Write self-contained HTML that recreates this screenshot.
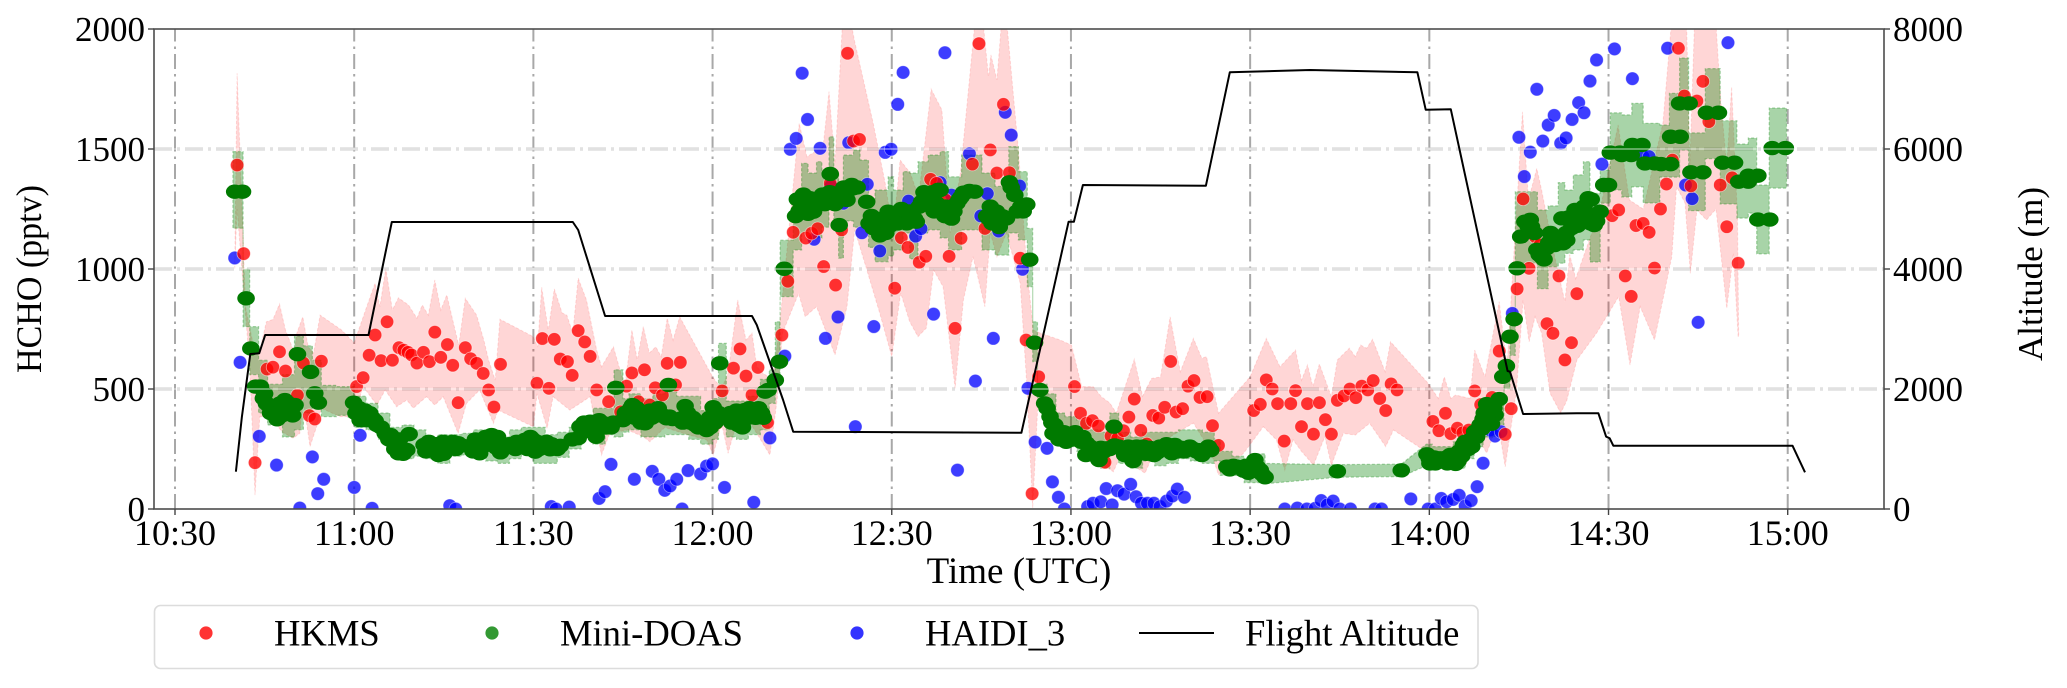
<!DOCTYPE html>
<html lang="en">
<head>
<meta charset="utf-8">
<title>HCHO and flight altitude time series</title>
<style>
html,body{margin:0;padding:0;background:#fff;}
svg{display:block;}
text{font-family:"Liberation Serif","Times New Roman",serif;fill:#000;}
</style>
</head>
<body>
<svg id="chart" xmlns="http://www.w3.org/2000/svg" width="2067" height="688" viewBox="0 0 2067 688">
  <defs><clipPath id="plot-clip"><rect x="154" y="29" width="1730" height="480"/></clipPath></defs>
  <rect x="0" y="0" width="2067" height="688" fill="#fff"/>
  <g id="grid"></g>
  <g id="series" clip-path="url(#plot-clip)"></g>
  <g id="axes"></g>
  <text x="1019" y="583" font-size="37" text-anchor="middle">Time (UTC)</text>
  <text transform="translate(41,279) rotate(-90) scale(1,1.07)" font-size="34" text-anchor="middle">HCHO (pptv)</text>
  <text transform="translate(2042,274) rotate(-90)" font-size="35" text-anchor="middle">Altitude (m)</text>
  <g>
    <rect x="154.5" y="605.5" width="1323.5" height="63" rx="6" fill="#fff" stroke="#dcdcdc" stroke-width="1.6"/>
    <circle cx="206" cy="633" r="6.6" fill="#ff0000" fill-opacity=".8"/>
    <text x="274" y="645.5" font-size="36.6">HKMS</text>
    <circle cx="492" cy="633" r="6.6" fill="#008000" fill-opacity=".8"/>
    <text x="560" y="645.5" font-size="36.6">Mini-DOAS</text>
    <circle cx="857" cy="633" r="6.6" fill="#0000ff" fill-opacity=".8"/>
    <text x="925" y="645.5" font-size="36.6">HAIDI_3</text>
    <line x1="1139" y1="633" x2="1214" y2="633" stroke="#000" stroke-width="2"/>
    <text x="1245" y="645.5" font-size="36.6">Flight Altitude</text>
  </g>
</svg>
<script>
// All times are minutes after 10:30 UTC; HCHO in pptv; altitude in metres.
const xTickMinutes = [0,30,60,90,120,150,180,210,240,270];
const xTickLabels = ['10:30','11:00','11:30','12:00','12:30','13:00','13:30','14:00','14:30','15:00'];
const hchoTicks = [0,500,1000,1500,2000];
const altitudeTicks = [0,2000,4000,6000,8000];

const hkmsUpper = [[10,1000],[10.4,1816],[11.5,1064],[11.8,843],[13.4,650],[14.2,662],[15.3,780],[16.4,790],[17.5,854],[18.5,746],[20,650],[20.4,733],[21.4,801],[22.3,675],[23.2,650],[24.3,808],[27.9,746],[30,692],[32.1,843],[33.5,941],[34.3,843],[35.3,1003],[36.4,829],[37.4,880],[39.1,850],[40.5,795],[41.4,850],[42.4,808],[43.5,954],[44.5,829],[45.5,892],[46.5,788],[47.5,683],[48.6,878],[50.5,808],[51.7,704],[52.5,621],[53.6,537],[54.4,791],[60,718],[60.7,675],[61.4,924],[62.5,746],[63.5,917],[64.8,817],[65.6,808],[66.6,733],[67.5,962],[68.9,871],[70.6,662],[71.4,593],[73.4,676],[75.3,510],[76.5,746],[77.4,621],[78.4,760],[79.4,650],[80.5,676],[81.4,635],[82.4,795],[83.4,704],[84.5,801],[90,551],[91.5,500],[92.6,567],[94.2,871],[95.6,704],[96.6,733],[97.4,593],[98.4,567],[100.1,537],[101.3,787],[103,1218],[104.5,1607],[105.8,1468],[108.5,1510],[109.5,1739],[110.5,1440],[111.9,2100],[113,2050],[113.8,1947],[116.9,1607],[118.9,1357],[120.2,1150],[121.4,1454],[123.1,1400],[124.5,1300],[126.6,1749],[128.4,1663],[129.8,1150],[131.5,1400],[134.2,2100],[135,2100],[136.2,1801],[136.6,1892],[137.6,1788],[138.6,2100],[139,2100],[141.2,1496],[142.6,1010],[143.7,746],[144.2,739],[148.2,704],[150.1,683],[151.8,510],[153.7,510],[155.1,468],[156.5,442],[157.6,400],[160.6,624],[162,470],[163.5,544],[165,550],[166.6,801],[168.3,572],[170.5,711],[171.9,628],[172.7,635],[174.7,399],[180,551],[182.7,711],[185,593],[187.6,662],[188.6,537],[189.6,600],[190.5,510],[191.6,604],[193.6,468],[194.6,621],[196.6,670],[197.6,635],[198.5,683],[199.5,670],[200.5,707],[202.6,572],[203.5,697],[209.8,524],[211.5,461],[212.5,551],[213.6,461],[214.4,475],[216.8,461],[217.6,662],[219.3,551],[221.7,864],[223,593],[225.6,1655],[226.6,1288],[228,1419],[228.8,1329],[231,1050],[232.7,864],[233.5,1060],[234.5,960],[238.6,1250],[241.6,1600],[243.5,1288],[245.8,1250],[249.1,1607],[250.8,2100],[253,2100],[253.6,1426],[254.5,2100],[257.8,2100],[258.8,1700],[259.8,1426],[260.6,1760],[261.6,1218],[261.8,718]];

const hkmsLower = [[10.4,1250],[11.5,900],[12.5,600],[13.4,58],[14.2,385],[16,380],[18,320],[19.8,295],[20.9,315],[21.5,450],[22.6,260],[23.7,343],[24.5,420],[27.6,385],[30,385],[31.5,510],[33.8,433],[35.2,496],[37.1,426],[38.8,454],[39.9,420],[42.1,468],[43.5,433],[44.9,468],[47.4,315],[48.8,440],[51,496],[53.3,357],[54.1,412],[60,343],[60.6,480],[62.3,336],[63.3,468],[66.1,412],[69.5,468],[71.4,225],[72.8,315],[75.8,329],[78.4,301],[79.5,280],[82,340],[85.1,315],[89,288],[90.1,225],[91.5,357],[92.6,232],[94,357],[96.3,357],[97.4,315],[99.6,225],[100.8,454],[101.7,733],[104.4,898],[105.5,801],[107.4,843],[110.5,642],[112.5,843],[113.8,1163],[115.5,1023],[118,815],[120,635],[121.5,900],[123,780],[124.4,718],[125.8,754],[127,996],[128.6,926],[130.6,503],[132,871],[133.6,1051],[135.6,843],[136.5,1150],[137.6,1051],[139.2,1150],[141.5,941],[142.6,525],[143.6,4],[144.5,454],[148,330],[151,288],[153.2,218],[157.1,155],[158.7,246],[160.5,180],[162.4,149],[164.5,270],[170.5,358],[173.3,246],[174.7,142],[178.9,232],[182.2,343],[184.4,288],[185.8,162],[187.2,288],[188.6,240],[190.6,183],[192.5,301],[193.6,182],[195.6,315],[197.6,308],[200,357],[202.7,260],[204,329],[209,246],[214.6,204],[216.2,190],[218,300],[219.6,233],[221.5,358],[222.7,176],[224.6,496],[225.7,871],[226.7,697],[227.7,801],[228.8,733],[230.2,483],[232,400],[233,450],[234.7,621],[238,733],[241.7,885],[243.6,600],[245.3,843],[247.7,704],[250.6,1051],[251.4,1343],[252.8,1275],[253.7,982],[254.8,1246],[256.4,1204],[258,1250],[259.8,836],[260.9,1065],[261.7,718]];

// [time, upper, lower] at each step of the Mini-DOAS uncertainty band
const doasBand = [[9.7,1489,1170],[11.4,1000,760],[12.5,760,560],[14,620,400],[15.5,520,350],[18,560,300],[20,720,330],[21.5,680,400],[23,620,430],[24.5,515,385],[27,510,390],[29,510,380],[30,470,340],[32,440,330],[34,400,290],[36,340,250],[38,350,210],[40,330,220],[42,300,210],[44,310,190],[46,310,220],[48,315,225],[50,330,220],[52,330,200],[54,300,190],[56,330,210],[58,340,230],[60,340,190],[62,310,190],[64,320,215],[66,340,250],[68,380,300],[70,420,270],[72,420,310],[73.5,580,300],[75,460,320],[76,480,330],[78,460,300],[80,480,300],[82,500,310],[84,470,310],[86,470,290],[88,410,270],[90,460,290],[91,690,400],[92.3,450,300],[94,450,290],[96,470,310],[98,540,330],[99.5,580,440],[100.5,780,520],[101.3,1120,885],[103.5,1301,1079],[104.9,1440,1150],[106,1400,1163],[107.4,1447,1129],[108.3,1400,1174],[109.5,1551,1260],[110.3,1400,1174],[111.1,1260,1045],[111.9,1475,1200],[113.6,1496,1174],[114.7,1454,1174],[116.1,1288,1090],[117.2,1329,1030],[119.4,1384,1054],[120.3,1329,1079],[121.9,1406,1150],[123,1400,1042],[124.4,1447,1150],[126.1,1475,1163],[128.1,1489,1129],[129.5,1384,1079],[131.7,1475,1163],[133.7,1475,1163],[135.1,1400,1079],[137.3,1344,1058],[139.6,1510,1150],[141.2,1406,1121],[142.7,1169,926],[143.6,780,614],[144.4,520,430],[146,480,330],[147.5,400,270],[149,385,260],[151,370,240],[153,330,200],[155,320,170],[156.5,400,230],[158,320,190],[160,300,170],[162,320,200],[164,320,180],[166,320,190],[168,330,210],[170,330,200],[172,320,190],[174,290,200],[175,240,140],[177,220,140],[179,195,110],[181,230,110],[182.5,190,105],[194.6,185,132],[205.3,187,135],[209.5,270,180],[210.5,260,170],[212,260,170],[214,280,170],[216,310,210],[217.5,350,260],[219,410,300],[221,480,350],[222.5,620,500],[223.5,800,640],[224.4,1322,1024],[228.1,1246,918],[229.9,1263,1010],[231.6,1360,1024],[232.7,1329,1065],[234.1,1392,1079],[235.8,1447,1121],[236.9,1315,1029],[238.6,1412,1274],[240.3,1651,1329],[242.2,1642,1300],[243.9,1690,1342],[245.8,1607,1275],[248.6,1600,1383],[250.2,1732,1383],[251.9,1879,1496],[253.4,1567,1243],[256.2,1835,1460],[258.7,1618,1271],[261.5,1521,1212],[263.4,1546,1233],[264.8,1350,1063],[266.9,1671,1337],[269.8,1671,1337]];

const hkmsPoints = [[10.4,1433],[11.5,1064],[13.4,193],[15.4,583],[16.4,591],[17.5,655],[18.5,575],[20.5,474],[21.5,608],[22.5,389],[23.4,375],[24.5,616],[30.4,510],[31.5,547],[32.5,641],[33.5,725],[34.5,618],[35.5,780],[36.4,620],[37.5,672],[38.3,662],[39,653],[39.6,642],[40.5,608],[41.6,653],[42.6,614],[43.5,737],[44.5,632],[45.6,685],[46.5,599],[47.4,443],[48.6,672],[49.5,626],[50.5,607],[51.6,565],[52.5,496],[53.4,425],[54.5,603],[60.6,524],[61.5,710],[62.6,503],[63.5,707],[64.5,625],[65.7,614],[66.5,557],[67.5,743],[68.6,696],[69.5,636],[70.6,496],[72.6,447],[74.6,405],[75.6,512],[76.5,567],[77.6,447],[78.6,580],[79.5,433],[80.4,505],[81.6,475],[82.4,607],[83.8,517],[84.6,611],[90.7,357],[91.6,492],[92.4,374],[93.5,587],[94.6,667],[95.6,554],[96.6,475],[97.6,590],[99.2,360],[101.6,725],[102.6,949],[103.5,1153],[105.6,1129],[106.6,1149],[107.6,1168],[108.6,1010],[109.7,1357],[110.6,933],[111.6,1163],[112.6,1899],[113.6,1533],[114.6,1540],[120.5,920],[121.6,1130],[122.7,1090],[124.6,1028],[125.7,1053],[126.5,1374],[127.5,1357],[129,1288],[129.6,1053],[130.6,753],[131.6,1128],[133.5,1437],[134.6,1939],[135.6,1169],[136.5,1496],[137.6,1400],[138.7,1686],[139.7,1401],[141.5,1045],[142.5,704],[143.5,64],[144.6,551],[150.6,510],[151.6,399],[152.6,357],[153.6,368],[154.6,346],[155.7,195],[156.7,304],[157.8,294],[158.8,326],[159.7,383],[160.6,458],[161.7,328],[162.7,271],[163.7,390],[164.7,379],[165.7,424],[166.7,615],[167.6,404],[168.7,418],[169.6,512],[170.6,535],[171.6,465],[172.8,468],[173.7,347],[174.7,265],[180.6,410],[181.7,436],[182.7,538],[183.7,500],[184.6,439],[185.7,283],[186.8,439],[187.6,493],[188.6,343],[189.6,439],[190.6,312],[191.6,443],[192.6,372],[193.6,312],[194.6,453],[195.7,471],[196.7,500],[197.7,464],[198.7,512],[199.7,496],[200.6,535],[201.7,460],[202.7,410],[203.6,521],[204.6,496],[210.6,365],[211.6,326],[212.7,399],[213.6,314],[214.7,337],[215.6,318],[216.6,329],[217.6,492],[218.6,435],[219.6,405],[220.5,465],[221.7,658],[222.7,311],[223.7,418],[224.7,917],[225.7,1292],[226.7,1003],[227.7,1135],[228.5,1100],[229.7,772],[230.7,732],[231.7,971],[232.7,621],[233.8,693],[234.7,897],[240.6,1222],[241.7,1246],[242.8,971],[243.8,886],[244.6,1181],[245.8,1190],[246.8,1153],[247.7,1004],[248.7,1250],[249.7,1354],[250.7,1454],[251.7,1920],[252.7,1721],[253.8,1346],[254.8,1700],[255.8,1782],[256.8,1614],[258.7,1350],[259.8,1176],[260.7,1380],[261.7,1024]];

const doasPoints = [[10,1322],[11.3,1322],[11.9,878],[12.7,669],[13.5,510],[14.3,510],[14.8,461],[15.6,433],[16.5,405],[17.1,374],[17.6,440],[18.4,454],[19.3,419],[20.1,433],[20.5,645],[22.7,571],[23.4,482],[24,443],[29.9,443],[30.3,399],[31.5,385],[32.6,399],[33.5,368],[35.2,315],[36.1,308],[37.1,267],[37.4,232],[38.8,246],[39.2,312],[41.7,267],[43,253],[44.1,225],[44.9,280],[46,260],[47.4,274],[49.7,267],[50.8,260],[51,232],[53,308],[54.5,236],[57.2,280],[58.6,288],[60,288],[60.3,239],[61.4,267],[62.8,249],[64.5,263],[67.5,295],[67.8,343],[69.5,364],[70.5,301],[71.7,358],[73.4,360],[73.8,505],[75.7,388],[76.6,433],[78.5,399],[78.7,357],[80.4,405],[82.3,378],[82.6,517],[84.8,378],[85.4,429],[87.1,350],[89,329],[90.1,424],[90.7,388],[91.2,607],[93.8,392],[94.3,350],[95.4,412],[96.8,399],[98.2,399],[98.8,489],[99.3,496],[100.5,537],[101.2,614],[102,1001],[104.5,1242],[105.5,1288],[106.9,1239],[107.4,1288],[109.1,1288],[109.7,1396],[111,1301],[111.2,1183],[112.5,1288],[113.6,1337],[115.8,1280],[116.6,1221],[117.8,1190],[118.5,1163],[119.4,1239],[120.3,1190],[122.2,1232],[124.1,1197],[125,1280],[126.1,1308],[127.5,1274],[128.1,1329],[129.5,1218],[130.9,1274],[132,1318],[133.9,1322],[136.2,1211],[137,1232],[137.8,1197],[139.2,1211],[139.7,1361],[140.6,1308],[141.6,1260],[142.6,1269],[143.1,1039],[143.9,693],[144.8,496],[145.6,440],[146.5,385],[147,315],[147.3,350],[148.4,301],[149.8,312],[151.2,301],[152.5,225],[152.6,274],[154.7,204],[156,253],[157.2,343],[158.8,246],[160.7,218],[162.1,260],[163.9,225],[164.9,260],[166.9,232],[167.4,267],[169.9,260],[171.9,225],[173,260],[176.1,176],[177.8,176],[179.7,151],[180.8,204],[181.7,162],[182.5,132],[194.6,157],[205.3,161],[209.6,228],[210.1,190],[211.8,211],[213.5,225],[214.4,188],[215.7,267],[217.1,260],[217.6,322],[218.5,350],[219.6,364],[219.6,437],[221,392],[221.7,458],[222.3,551],[222.9,596],[223.5,718],[224.2,791],[224.7,1003],[225.3,1135],[226,1197],[227.1,1176],[228.8,1051],[229.6,1086],[230.8,1135],[232.2,1211],[232.4,1107],[233.8,1170],[234.4,1246],[236.1,1232],[236.6,1295],[237.6,1183],[238.6,1239],[239.2,1350],[240,1350],[240.3,1485],[241.9,1485],[242.2,1475],[243.8,1475],[244,1517],[245.6,1517],[246.1,1440],[247.7,1440],[248.8,1437],[250.4,1437],[250.4,1551],[252,1551],[251.9,1690],[253.5,1690],[253.8,1403],[255.8,1403],[256.4,1651],[258.4,1651],[259.1,1443],[261.1,1443],[261.8,1364],[263.4,1364],[263.4,1389],[265,1389],[265,1206],[267,1206],[267.4,1504],[269.6,1504]];

// Further Mini-DOAS samples inside the overlapping clusters
const doasClusterPoints = [[15,480],[15.3,440],[16,400],[16.8,430],[17.3,410],[17.9,390],[18.7,410],[19,440],[19.7,390],[17.1,400],[30.8,420],[31,370],[31.8,410],[32,370],[33,380],[33.8,350],[34.5,340],[35.8,290],[36.5,280],[37.6,290],[37.9,250],[38.2,230],[36.8,250],[42,240],[42.5,280],[43.5,270],[44,270],[44.5,250],[45,230],[45.5,250],[46.5,280],[47,250],[48,265],[49.9,240],[50.3,290],[51.5,260],[52,300],[52.6,270],[53.5,280],[53.8,255],[54,300],[56,270],[57,250],[58,260],[59,250],[59.5,300],[60.6,280],[61,250],[61.8,260],[62.2,280],[63,270],[63.5,260],[64,250],[66.5,290],[68.2,320],[68.5,360],[69,340],[70,350],[70.8,340],[71,370],[72,340],[72.6,350],[73,340],[75,370],[75.4,400],[76,400],[76.3,420],[77,380],[77.3,420],[77.8,390],[78,360],[79,370],[79.5,410],[79.8,380],[80.9,420],[81.2,390],[81.7,390],[82.8,385],[83.3,375],[85,360],[85.8,400],[86.3,360],[86.7,380],[87.6,340],[88,360],[88.5,345],[89.5,380],[89.6,340],[90.4,360],[91,400],[91.5,385],[93,400],[93.2,360],[94,410],[94.8,380],[95,340],[95.9,380],[96.2,420],[97.2,380],[97.7,420],[98.5,380],[103.9,1220],[104.2,1290],[105,1240],[105.2,1310],[106,1230],[106.3,1295],[107,1280],[108,1275],[108.4,1310],[108.8,1270],[109.6,1320],[110,1290],[110.5,1270],[111.6,1310],[112,1340],[112.9,1330],[113.3,1350],[114.2,1340],[116.2,1190],[116.9,1170],[117.3,1210],[118,1140],[118.8,1200],[119,1150],[119.7,1180],[120.6,1230],[121,1190],[121.6,1250],[122.5,1190],[122.9,1240],[123.4,1220],[123.8,1210],[124.6,1260],[125.4,1320],[125.8,1270],[126.4,1280],[126.8,1320],[127.1,1240],[127.8,1330],[128.4,1250],[128.9,1220],[129,1260],[130,1210],[130.4,1240],[131.3,1290],[131.6,1300],[132.5,1320],[133,1325],[135.9,1220],[136.5,1260],[136.8,1190],[137.5,1240],[138,1175],[138.5,1220],[140,1340],[141,1240],[142,1240],[146,420],[146.8,360],[147.7,330],[148,290],[148.8,320],[149.2,280],[150.3,290],[150.7,320],[151.7,280],[152,300],[153.2,260],[153.8,235],[154.2,220],[155,255],[155.5,240],[156.5,250],[157.3,265],[158,260],[159,225],[159.6,260],[160,240],[160.4,200],[161,260],[161.5,240],[162.6,230],[163.2,255],[164.4,235],[165.5,260],[166,270],[166.4,245],[167.9,240],[168.5,255],[169,240],[170.5,250],[171,240],[171.5,245],[172.4,240],[173.4,245],[176.6,165],[177.2,180],[178.4,170],[178.9,160],[179.3,180],[180.2,160],[180.5,190],[181.2,175],[182,145],[210,210],[210.8,215],[211,190],[212.3,205],[212.9,215],[213,190],[213.8,205],[214.8,200],[215,240],[215.4,220],[216,280],[216.5,250],[217,290],[217.9,300],[218.2,330],[218.8,335],[219,375],[220,400],[220.4,355],[220.8,420],[219.2,400],[226.5,1180],[226.9,1205],[227.6,1150],[228,1080],[228.4,1060],[229.2,1040],[230,1110],[230.3,1150],[231,1100],[231.5,1130],[231.9,1120],[232.9,1150],[233.3,1215],[233,1120],[234,1205],[234.8,1180],[235.4,1220],[235.9,1260],[237.1,1290],[237,1190],[238,1200]];

const haidiPoints = [[10,1046],[10.9,611],[14.1,303],[17,183],[20.9,4],[23,217],[23.9,64],[24.9,124],[30,90],[31,307],[33,3],[46,14],[47,0],[63,10],[63.8,0],[66,8],[71,44],[72,72],[73,186],[76.9,124],[79.9,157],[81,124],[82,78],[82.9,96],[84,124],[84.9,0],[85.9,160],[88,146],[89,179],[90,188],[92,90],[96.9,28],[99.6,296],[102.1,637],[103,1499],[104,1544],[105,1816],[105.9,1623],[107,1124],[108,1503],[108.9,711],[109.8,1347],[111,800],[111.9,1274],[112.8,1526],[113.9,343],[115,1151],[115.9,1353],[117,760],[118,1075],[118.9,1486],[119.9,1499],[121,1686],[121.9,1819],[122.8,1283],[124,1137],[124.9,1168],[127,812],[128.1,1360],[128.9,1901],[130,1308],[131,162],[133,1480],[134,533],[134.9,1221],[136,1314],[137,711],[137.9,1158],[139,1653],[140,1558],[141.4,1346],[141.9,999],[142.8,503],[144,279],[146,253],[146.9,113],[147.9,49],[148.9,0],[152.8,10],[153.7,24],[155,30],[155.9,85],[156.9,17],[157.8,76],[158.9,62],[160,103],[160.9,51],[161.8,24],[162.8,24],[163.9,24],[164.9,10],[166,33],[167,54],[167.8,83],[169,49],[185.8,0],[187.9,4],[189.5,0],[190.9,3],[191.9,35],[192.9,17],[193.9,33],[195,0],[196.8,0],[200.9,0],[202,0],[206.9,42],[209.8,0],[211,0],[212,44],[212.9,30],[214,40],[215,57],[216,12],[217,35],[218,93],[219,191],[220.2,329],[221,304],[222,322],[223.9,815],[225,1549],[225.9,1385],[226.9,1487],[228,1749],[229,1533],[229.9,1600],[230.9,1640],[232,1524],[232.9,1546],[233.9,1623],[235,1693],[235.9,1651],[236.9,1783],[238,1871],[238.9,1437],[241,1917],[244,1793],[245.8,1468],[246.8,1468],[249.9,1920],[252.9,1350],[254,1293],[255,778],[260,1943]];

const altitudeTrace = [[10.2,622],[11.2,1539],[12.6,2583],[14.1,2595],[15.1,2900],[32.4,2900],[36.3,4783],[66.6,4783],[67.5,4650],[72,3217],[96.6,3217],[97.4,3067],[101.8,1817],[103.5,1288],[141.7,1270],[149.6,4788],[150.5,4788],[152,5400],[172.6,5388],[176.6,7278],[190,7317],[208,7278],[209.4,6655],[213.6,6661],[223.1,2300],[223.5,2288],[225.7,1583],[234.7,1595],[238.3,1595],[239.6,1206],[240.2,1178],[240.8,1055],[270.8,1055],[272.9,611]];

const NS = 'http://www.w3.org/2000/svg';
function xOf(t){ return 175 + 5.973 * t; }
function yHcho(v){ return 509 - 0.24 * v; }
function yAlt(a){ return 509 - 0.06 * a; }
function make(tag, parent, attrs){
  const el = document.createElementNS(NS, tag);
  for (const k in attrs) el.setAttribute(k, attrs[k]);
  parent.appendChild(el);
  return el;
}
const gridG = document.getElementById('grid');
const seriesG = document.getElementById('series');
const axesG = document.getElementById('axes');

// Grid lines
xTickMinutes.forEach(function(m){
  const el = make('line', gridG, {x1:xOf(m), x2:xOf(m), y1:509, y2:29, stroke:'#a8a8a8', 'stroke-width':2, 'stroke-dasharray':'15 5 2.5 5'});
  
  
});
hchoTicks.slice(1,4).forEach(function(v){
  const el = make('line', gridG, {x1:154, x2:1884, y1:yHcho(v), y2:yHcho(v), stroke:'#cfcfcf', 'stroke-width':3, 'stroke-dasharray':'18 5 3 5'});
  
  
});

// HKMS uncertainty band
const bandPts = hkmsUpper.map(function(p){ return xOf(p[0]).toFixed(1)+','+yHcho(p[1]).toFixed(1); })
  .concat(hkmsLower.slice().reverse().map(function(p){ return xOf(p[0]).toFixed(1)+','+yHcho(p[1]).toFixed(1); }));
const hkmsBandEl = make('polygon', seriesG, {points:bandPts.join(' '), fill:'#ff0000', 'fill-opacity':.16, stroke:'#ff0000', 'stroke-opacity':.12, 'stroke-width':1, 'stroke-dasharray':'3 2'});



// Mini-DOAS step band
let topPath = [], botPath = [];
doasBand.forEach(function(row, i){
  const x = xOf(row[0]);
  topPath.push(x.toFixed(1)+','+yHcho(row[1]).toFixed(1));
  botPath.push(x.toFixed(1)+','+yHcho(row[2]).toFixed(1));
  const next = doasBand[i+1];
  if (next && next[0] - row[0] <= 4) {
    const nx = xOf(next[0]);
    topPath.push(nx.toFixed(1)+','+yHcho(row[1]).toFixed(1));
    botPath.push(nx.toFixed(1)+','+yHcho(row[2]).toFixed(1));
  }
});
const doasBandEl = make('polygon', seriesG, {points:topPath.concat(botPath.reverse()).join(' '), fill:'#008000', 'fill-opacity':.34, stroke:'#008000', 'stroke-opacity':.3, 'stroke-width':1.2, 'stroke-dasharray':'3 2'});



// Points
haidiPoints.forEach(function(p){
  const el = make('circle', seriesG, {cx:xOf(p[0]), cy:yHcho(p[1]), r:6.7, fill:'#0000ff', 'fill-opacity':.76, stroke:'#fff', 'stroke-opacity':.45, 'stroke-width':.8});
  
  
});
hkmsPoints.forEach(function(p){
  const el = make('circle', seriesG, {cx:xOf(p[0]), cy:yHcho(p[1]), r:6.7, fill:'#ff0000', 'fill-opacity':.78, stroke:'#fff', 'stroke-opacity':.55, 'stroke-width':.8});
  
  
});
doasPoints.concat(doasClusterPoints).forEach(function(p){
  const el = make('ellipse', seriesG, {cx:xOf(p[0]), cy:yHcho(p[1]), rx:8.8, ry:7.2, fill:'#007a00'});
  
  
});

// White hairline seen through the data along the horizontal grid
hchoTicks.slice(1,4).forEach(function(v){
  const el = make('line', seriesG, {x1:154, x2:1884, y1:yHcho(v), y2:yHcho(v), stroke:'#fff', 'stroke-opacity':.75, 'stroke-width':.9});
  
  
});

// Flight altitude
const altEl = make('polyline', seriesG, {points:altitudeTrace.map(function(p){ return xOf(p[0]).toFixed(1)+','+yAlt(p[1]).toFixed(1); }).join(' '), fill:'none', stroke:'#000', 'stroke-width':2, 'stroke-linejoin':'round'});



// Spines
const frameEl = make('rect', axesG, {x:154, y:29, width:1730, height:480, fill:'none', stroke:'#4d4d4d', 'stroke-width':1.6});



// X ticks
xTickMinutes.forEach(function(m, i){
  const tick = make('line', axesG, {x1:xOf(m), x2:xOf(m), y1:509, y2:515, stroke:'#444', 'stroke-width':1.4});
  
  
  const lab = make('text', axesG, {x:xOf(m), y:545, 'font-size':36, 'text-anchor':'middle'});
  lab.textContent = xTickLabels[i];
  
  
});
// Left ticks
hchoTicks.forEach(function(v){
  const tick = make('line', axesG, {x1:148, x2:154, y1:yHcho(v), y2:yHcho(v), stroke:'#444', 'stroke-width':1.4});
  
  
  const lab = make('text', axesG, {x:145, y:yHcho(v)+12, 'font-size':35, 'text-anchor':'end'});
  lab.textContent = String(v);
  
  
});
// Right ticks
altitudeTicks.forEach(function(a){
  const tick = make('line', axesG, {x1:1884, x2:1890, y1:yAlt(a), y2:yAlt(a), stroke:'#444', 'stroke-width':1.4});
  
  
  const lab = make('text', axesG, {x:1893, y:yAlt(a)+12, 'font-size':35, 'text-anchor':'start'});
  lab.textContent = String(a);
  
  
});
</script>
</body>
</html>
